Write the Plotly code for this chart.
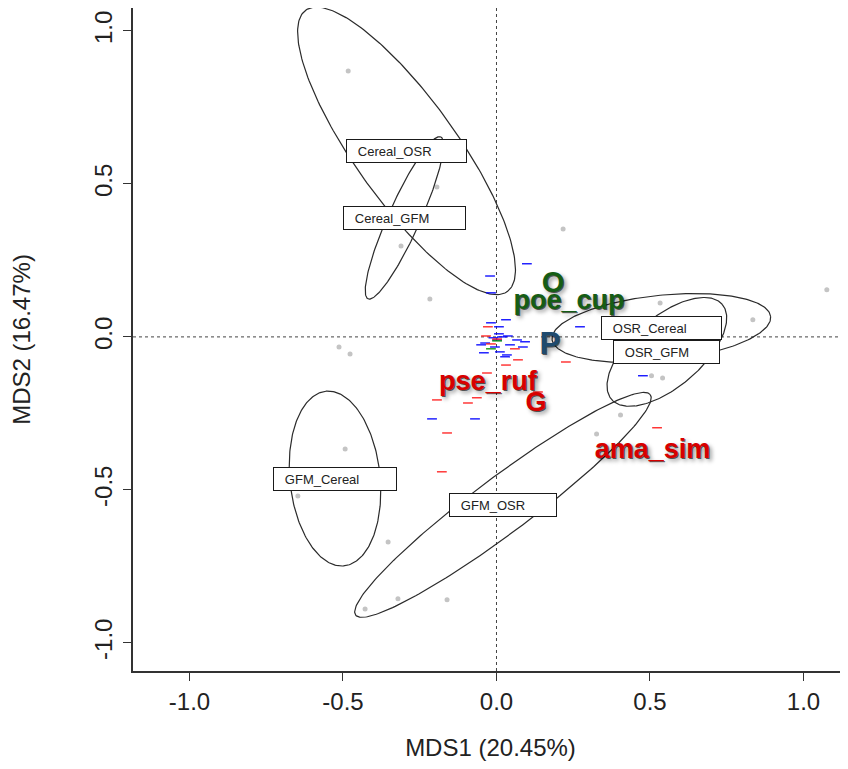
import numpy as np
import plotly.graph_objects as go

# ---------------- data ----------------
# site scores (grey points)
site_x = [-0.483, -0.194, -0.311, -0.217, 0.217, 1.076, 0.835, 0.533, 0.505, 0.541,
          0.404, 0.326, -0.513, -0.477, -0.493, -0.647, -0.353, -0.321, -0.161, -0.428]
site_y = [0.869, 0.490, 0.297, 0.124, 0.353, 0.154, 0.056, 0.111, -0.127, -0.134,
          -0.255, -0.317, -0.033, -0.056, -0.366, -0.520, -0.670, -0.856, -0.859, -0.889]

# species scores (short dashes)
sp_blue_x = [0.099, -0.021, -0.018, 0.031, -0.018, 0.008, 0.037, 0.018, 0.002, 0.067,
             0.093, -0.037, -0.050, -0.005, 0.044, 0.086, 0.011, 0.028, -0.041, 0.034,
             0.272, -0.210, -0.070, 0.477, -0.010, 0.008]
sp_blue_y = [0.239, 0.199, 0.144, 0.056, 0.046, 0.033, 0.003, 0.000, -0.010, -0.010,
             -0.016, -0.020, -0.026, -0.033, -0.026, -0.033, -0.049, -0.065, -0.052, -0.059,
             0.033, -0.268, -0.268, -0.127, -0.003, 0.010]
sp_red_x = [-0.028, -0.034, 0.002, -0.018, 0.060, 0.070, 0.031, -0.031, 0.226, -0.194,
            -0.093, -0.064, 0.135, -0.161, -0.178, 0.523]
sp_red_y = [0.033, 0.003, -0.007, -0.023, -0.039, -0.075, -0.092, -0.118, -0.082, -0.206,
            -0.216, -0.199, -0.180, -0.314, -0.441, -0.297]
sp_green_x = [-0.018, 0.002]
sp_green_y = [-0.039, -0.013]

# highlighted species / group labels
lab_text = ["O", "poe_cup", "P", "pse_ruf", "G", "ama_sim"]
lab_x = [0.184, 0.236, 0.174, -0.028, 0.129, 0.508]
lab_y = [0.170, 0.114, -0.031, -0.150, -0.221, -0.375]

# group ellipses
ell_names = ["Cereal_OSR", "Cereal_GFM", "OSR_Cereal", "OSR_GFM", "GFM_Cereal", "GFM_OSR"]
ell_cx = [-0.293, -0.300, 0.537, 0.555, -0.526, 0.021]
ell_cy = [0.608, 0.389, 0.029, -0.049, -0.463, -0.549]
ell_a = [0.565, 0.290, 0.358, 0.238, 0.287, 0.600]
ell_b = [0.166, 0.052, 0.107, 0.114, 0.147, 0.091]
ell_angle = [-54.5, 65.9, 6.0, 40.8, 95.9, 36.9]

x_ticks = [-1.0, -0.5, 0.0, 0.5, 1.0]
y_ticks = [-1.0, -0.5, 0.0, 0.5, 1.0]
tick_labels = ["-1.0", "-0.5", "0.0", "0.5", "1.0"]

# ---------------- styles ----------------
FONT = "Arial, Liberation Sans, sans-serif"
lab_colors = ["#155d15", "#155d15", "#1f4a6e", "#d80000", "#d80000", "#d80000"]
lab_sizes = [29, 27, 31, 27, 27, 27]
box_w = {"Cereal_OSR": 121, "Cereal_GFM": 123, "OSR_Cereal": 121,
         "OSR_GFM": 107, "GFM_Cereal": 124, "GFM_OSR": 108}

fig = go.Figure()

# sites
fig.add_trace(go.Scatter(x=site_x, y=site_y, mode="markers",
                         marker=dict(color="#c4c4c4", size=5), hoverinfo="skip"))

# ellipses
t = np.linspace(0, 2 * np.pi, 240)
for cx, cy, a, b, ang in zip(ell_cx, ell_cy, ell_a, ell_b, ell_angle):
    th = np.deg2rad(ang)
    ex = cx + a * np.cos(t) * np.cos(th) - b * np.sin(t) * np.sin(th)
    ey = cy + a * np.cos(t) * np.sin(th) + b * np.sin(t) * np.cos(th)
    fig.add_trace(go.Scatter(x=ex, y=ey, mode="lines",
                             line=dict(color="#2b2b2b", width=1.2), hoverinfo="skip"))

# species dashes
for xs, ys, col in [(sp_blue_x, sp_blue_y, "#0000ff"),
                    (sp_red_x, sp_red_y, "#ff1a1a"),
                    (sp_green_x, sp_green_y, "#009000")]:
    fig.add_trace(go.Scatter(x=xs, y=ys, mode="markers",
                             marker=dict(symbol="line-ew", size=7,
                                         line=dict(color=col, width=1.3)),
                             hoverinfo="skip"))

# shadowed labels
for txt, x, y, col, sz in zip(lab_text, lab_x, lab_y, lab_colors, lab_sizes):
    fig.add_trace(go.Scatter(
        x=[x], y=[y], mode="text", text=[txt], textposition="middle center",
        textfont=dict(family=FONT, size=sz, color=col, weight="bold",
                      shadow="1px 1px 0px rgba(0,0,0,0.6), 3px 3px 4px rgba(0,0,0,0.4)"),
        hoverinfo="skip"))

# ellipse labels in boxes
for name, cx, cy in zip(ell_names, ell_cx, ell_cy):
    fig.add_annotation(x=cx, y=cy, xref="x", yref="y", showarrow=False,
                       text="\u00a0\u00a0\u00a0" + name, align="left",
                       width=box_w[name] - 2, height=22,
                       font=dict(family=FONT, size=13, color="#222222"),
                       bgcolor="white", bordercolor="#1a1a1a", borderwidth=1, borderpad=0)

# dotted origin lines
fig.add_shape(type="line", xref="x", yref="paper", x0=0, x1=0, y0=0, y1=1,
              line=dict(color="#444444", width=1, dash="dot"), layer="below")
fig.add_shape(type="line", xref="paper", yref="y", x0=0, x1=1, y0=0, y1=0,
              line=dict(color="#444444", width=1, dash="dot"), layer="below")

axis_common = dict(showgrid=False, zeroline=False, showline=True, linecolor="#333333",
                   linewidth=1.5, ticks="outside", ticklen=8, tickwidth=1, automargin=False,
                   tickcolor="#333333", tickfont=dict(family=FONT, size=24, color="#222222"))

fig.update_layout(
    width=848, height=769,
    margin=dict(l=125, r=8, t=0, b=106),
    paper_bgcolor="white", plot_bgcolor="white",
    showlegend=False,
    xaxis=dict(range=[-1.184, 1.145], tickvals=x_ticks, ticktext=tick_labels,
               mirror=True, ticklabelstandoff=0,
               title=dict(text="MDS1 (20.45%)", font=dict(family=FONT, size=24, color="#222222"),
                          standoff=26),
               **axis_common),
    yaxis=dict(range=[-1.092, 1.075], tickvals=y_ticks, ticktext=tick_labels,
               tickangle=-90, ticklabelstandoff=2,
               title=dict(text="MDS2 (16.47%)", font=dict(family=FONT, size=24, color="#222222"),
                          standoff=54),
               **axis_common),
)

fig.write_html("out.html")
